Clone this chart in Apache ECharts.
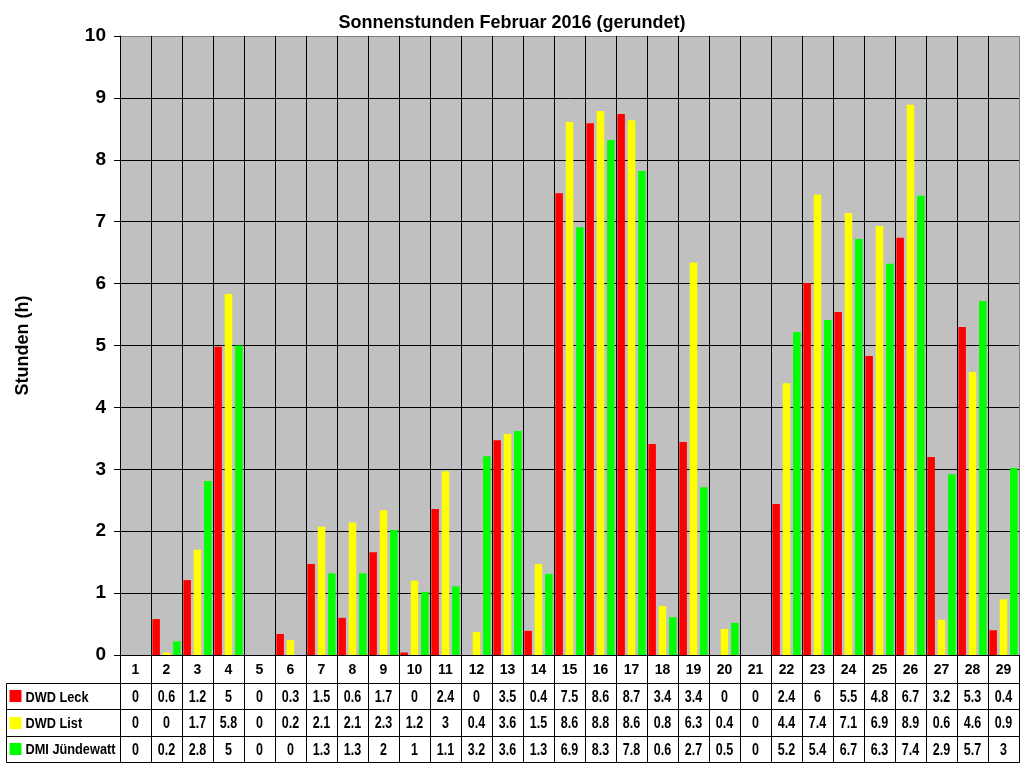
<!DOCTYPE html>
<html><head><meta charset="utf-8">
<script src="https://cdn.jsdelivr.net/npm/echarts@6/dist/echarts.min.js"></script>
<style>html,body{margin:0;padding:0;background:#fff}#c{width:1024px;height:768px}</style>
</head><body><div id="c"></div>
<script>
const days = ['1','2','3','4','5','6','7','8','9','10','11','12','13','14','15','16','17','18','19','20','21','22','23','24','25','26','27','28','29'];
const seriesNames = ['DWD Leck','DWD List','DMI Jündewatt'];
const leck = [0,0.58,1.21,4.98,0,0.34,1.47,0.6,1.66,0.04,2.36,0,3.47,0.39,7.46,8.59,8.74,3.41,3.44,0,0,2.44,6.01,5.54,4.83,6.74,3.2,5.3,0.4];
const list = [0,0.04,1.7,5.83,0,0.24,2.07,2.14,2.34,1.2,2.97,0.37,3.57,1.47,8.61,8.79,8.64,0.79,6.34,0.42,0,4.39,7.44,7.14,6.93,8.89,0.57,4.57,0.9];
const dmi = [0,0.22,2.81,5.0,0,0,1.32,1.32,2.02,1.02,1.11,3.21,3.62,1.31,6.91,8.32,7.82,0.61,2.71,0.52,0,5.22,5.41,6.72,6.32,7.42,2.92,5.72,3.02];
const colors = ['#FF0000','#FFFF00','#00FF00'];

const FONT = 'Arial, "Liberation Sans", sans-serif';
const fmt = v => String(Math.round(v * 10) / 10);
const allSeries = [leck, list, dmi];

const tableData = [];
allSeries.forEach((arr, r) => arr.forEach((v, i) => tableData.push([i, r, v])));
const legendData = seriesNames.map((n, r) => [0, r]);

// split line colours: inner lines black, outer border (top / right) grey
const ySplitColors = Array.from({length: 11}, (_, i) => i === 10 ? '#808080' : '#000');
const xSplitColors = Array.from({length: days.length + 1}, (_, i) => i === days.length ? '#808080' : '#000');

const chart = echarts.init(document.getElementById('c'));

function cellBox(api, xv, yv) {
  const p = api.coord([xv, yv]);
  const s = api.size([1, 1]);
  const x0 = Math.round(p[0] - s[0] / 2) + 0.5, x1 = Math.round(p[0] + s[0] / 2) + 0.5;
  const y0 = Math.round(p[1] - s[1] / 2) + 0.5, y1 = Math.round(p[1] + s[1] / 2) + 0.5;
  return {p, x0, x1, y0, y1};
}

function tableCell(params, api) {
  const b = cellBox(api, api.value(0), api.value(1));
  return {
    type: 'group',
    children: [
      {type: 'rect', shape: {x: b.x0, y: b.y0, width: b.x1 - b.x0, height: b.y1 - b.y0}, style: {fill: '#fff', stroke: '#000', lineWidth: 1}},
      {type: 'text', x: b.p[0], y: b.p[1] + 1.5, scaleX: 0.78,
       style: {text: fmt(api.value(2)), font: 'bold 16px ' + FONT, fill: '#000', align: 'center', verticalAlign: 'middle'}}
    ]
  };
}

function legendCell(params, api) {
  const r = api.value(1);
  const b = cellBox(api, 0, r);
  return {
    type: 'group',
    children: [
      {type: 'rect', shape: {x: b.x0, y: b.y0, width: b.x1 - b.x0, height: b.y1 - b.y0}, style: {fill: '#fff', stroke: '#000', lineWidth: 1}},
      {type: 'rect', shape: {x: b.x0 + 3, y: Math.round(b.p[1]) - 6, width: 12, height: 12}, style: {fill: colors[r]}},
      {type: 'text', x: b.x0 + 19, y: b.p[1] + 1.5, scaleX: 0.85,
       style: {text: seriesNames[r], font: 'bold 15px ' + FONT, fill: '#000', verticalAlign: 'middle', align: 'left'}}
    ]
  };
}

chart.setOption({
  backgroundColor: '#fff',
  animation: false,
  title: {text: 'Sonnenstunden Februar 2016 (gerundet)', left: 'center', top: 9,
    textStyle: {fontFamily: FONT, fontSize: 18, fontWeight: 'bold', color: '#000'}},
  grid: [
    {left: 120, right: 5, top: 36, bottom: 113, show: true, backgroundColor: '#C0C0C0', borderWidth: 0},
    {left: 120, right: 5, top: 683, bottom: 6},
    {left: 6, width: 114, top: 683, bottom: 6}
  ],
  xAxis: [
    {type: 'category', gridIndex: 0, data: days, boundaryGap: true,
     axisLine: {lineStyle: {color: '#000', width: 1}},
     axisTick: {show: true, length: 28, lineStyle: {color: '#000'}},
     axisLabel: {margin: 8, fontFamily: FONT, fontSize: 14, fontWeight: 'bold', color: '#000', interval: 0},
     splitLine: {show: true, lineStyle: {color: xSplitColors, width: 1}}},
    {type: 'category', gridIndex: 1, data: days, show: false},
    {type: 'category', gridIndex: 2, data: [''], show: false}
  ],
  yAxis: [
    {type: 'value', gridIndex: 0, min: 0, max: 10, interval: 1,
     name: 'Stunden (h)', nameLocation: 'middle', nameGap: 88,
     nameTextStyle: {fontFamily: FONT, fontSize: 18, fontWeight: 'bold', color: '#000'},
     axisLine: {show: true, lineStyle: {color: '#000'}},
     axisTick: {show: true, length: 6, lineStyle: {color: '#000'}},
     axisLabel: {margin: 14, fontFamily: FONT, fontSize: 19, fontWeight: 'bold', color: '#000'},
     splitLine: {show: true, lineStyle: {color: ySplitColors, width: 1}}},
    {type: 'category', gridIndex: 1, data: seriesNames, inverse: true, show: false},
    {type: 'category', gridIndex: 2, data: seriesNames, inverse: true, show: false}
  ],
  series: [
    {name: seriesNames[0], type: 'bar', data: leck, itemStyle: {color: colors[0]}, barWidth: 7.5, barGap: '38%'},
    {name: seriesNames[1], type: 'bar', data: list, itemStyle: {color: colors[1]}, barWidth: 7.5, barGap: '38%'},
    {name: seriesNames[2], type: 'bar', data: dmi, itemStyle: {color: colors[2]}, barWidth: 7.5, barGap: '38%'},
    {type: 'custom', xAxisIndex: 1, yAxisIndex: 1, data: tableData, renderItem: tableCell, silent: true},
    {type: 'custom', xAxisIndex: 2, yAxisIndex: 2, data: legendData, renderItem: legendCell, silent: true}
  ]
});
</script></body></html>
